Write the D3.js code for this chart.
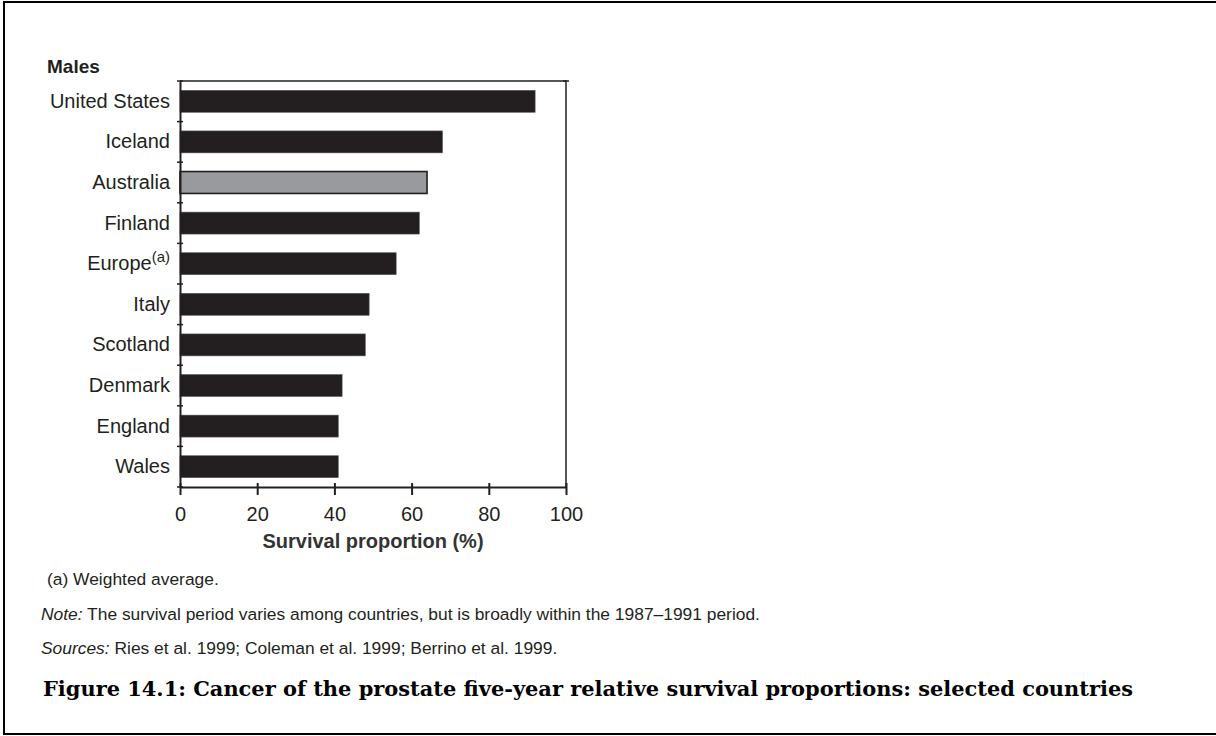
<!DOCTYPE html>
<html>
<head>
<meta charset="utf-8">
<script src="https://cdn.jsdelivr.net/npm/d3@7"></script>
<style>
  body { margin: 0; background: #fff; }
  svg { display: block; font-family: "Liberation Sans", Arial, sans-serif; }
</style>
</head>
<body>
<div id="chart"></div>
<script>
// data
const countries = ["United States", "Iceland", "Australia", "Finland", "Europe",
                   "Italy", "Scotland", "Denmark", "England", "Wales"];
const survival = [92, 68, 64, 62, 56, 49, 48, 42, 41, 41];
const xTicks = [0, 20, 40, 60, 80, 100];
const highlight = "Australia";
const footnoted = "Europe";

const W = 1216, H = 736;
const ink = "#231f20";

const svg = d3.select("#chart").append("svg")
  .attr("width", W)
  .attr("height", H);

// outer frame (open on the right side, like the page crop)
svg.append("path")
  .attr("d", `M${W + 2},2 H4 V734 H${W + 2}`)
  .attr("fill", "none")
  .attr("stroke", "#000")
  .attr("stroke-width", 2);

const x = d3.scaleLinear().domain([0, 100]).range([180, 566]);
const y = d3.scaleBand().domain(countries).range([81, 487]).paddingInner(0.46).paddingOuter(0.23);

const rows = countries.map((c, i) => ({ name: c, value: survival[i] }));

// bars
svg.selectAll(".bar")
  .data(rows)
  .enter().append("rect")
  .attr("class", "bar")
  .attr("x", x(0))
  .attr("y", d => y(d.name))
  .attr("width", d => x(d.value) - x(0))
  .attr("height", y.bandwidth())
  .attr("fill", d => d.name === highlight ? "#999a9d" : ink)
  .attr("stroke", d => d.name === highlight ? ink : "#555")
  .attr("stroke-width", d => d.name === highlight ? 1.6 : 0.6);

// frame top + right
svg.append("path")
  .attr("d", `M${x(0)},${y.range()[0]} H${x(100)} V${y.range()[1]}`)
  .attr("fill", "none")
  .attr("stroke", ink)
  .attr("stroke-width", 1.5);

// left axis: labels only, ticks drawn at band boundaries
const yAxis = svg.append("g")
  .attr("transform", `translate(${x(0)},0)`)
  .call(d3.axisLeft(y).tickSize(0).tickPadding(10));
yAxis.select(".domain").attr("stroke", ink).attr("stroke-width", 2);
yAxis.selectAll("text")
  .attr("font-family", "'Liberation Sans', Arial, sans-serif")
  .attr("font-size", 20)
  .attr("fill", ink);

// superscript on Europe
yAxis.selectAll(".tick text")
  .filter(d => d === footnoted)
  .text(null)
  .call(t => {
    t.append("tspan").text("Europe");
    t.append("tspan").text("(a)").attr("font-size", 15).attr("dy", -8);
  });

const bounds = d3.range(countries.length + 1).map(k => y.range()[0] + k * y.step());
svg.selectAll(".ytick")
  .data(bounds)
  .enter().append("line")
  .attr("x1", x(0) - 3).attr("x2", x(0) + 3)
  .attr("y1", d => d).attr("y2", d => d)
  .attr("stroke", ink).attr("stroke-width", 1.5);
svg.selectAll(".rtick")
  .data([y.range()[0]])
  .enter().append("line")
  .attr("x1", x(100) - 3).attr("x2", x(100) + 3)
  .attr("y1", d => d).attr("y2", d => d)
  .attr("stroke", ink).attr("stroke-width", 1.5);

// bottom axis
const xAxis = svg.append("g")
  .attr("transform", `translate(0,${y.range()[1]})`)
  .call(d3.axisBottom(x).tickValues(xTicks).tickSize(8).tickSizeOuter(0).tickPadding(12));
xAxis.select(".domain").attr("stroke", ink).attr("stroke-width", 2);
xAxis.selectAll(".tick line").attr("y1", -4).attr("stroke", ink).attr("stroke-width", 2);
xAxis.selectAll("text")
  .attr("font-family", "'Liberation Sans', Arial, sans-serif")
  .attr("font-size", 20)
  .attr("fill", ink);

svg.append("text")
  .attr("x", (x(0) + x(100)) / 2)
  .attr("y", 548)
  .attr("text-anchor", "middle")
  .attr("font-size", 20)
  .attr("font-weight", "bold")
  .attr("fill", "#333")
  .text("Survival proportion (%)");

svg.append("text")
  .attr("x", 47)
  .attr("y", 73)
  .attr("font-size", 19)
  .attr("font-weight", "bold")
  .attr("fill", ink)
  .text("Males");

// notes
svg.append("text")
  .attr("x", 47).attr("y", 585)
  .attr("font-size", 17.4).attr("fill", ink)
  .text("(a) Weighted average.");

const note = svg.append("text").attr("x", 41).attr("y", 620).attr("font-size", 17.4).attr("fill", ink);
note.append("tspan").attr("font-style", "italic").text("Note:");
note.append("tspan").text(" The survival period varies among countries, but is broadly within the 1987\u20131991 period.");

const src = svg.append("text").attr("x", 41).attr("y", 654).attr("font-size", 17.4).attr("fill", ink);
src.append("tspan").attr("font-style", "italic").text("Sources:");
src.append("tspan").text(" Ries et al. 1999; Coleman et al. 1999; Berrino et al. 1999.");

svg.append("text")
  .attr("x", 43).attr("y", 696)
  .attr("font-family", "'DejaVu Serif', 'Liberation Serif', serif")
  .attr("font-size", 20)
  .attr("font-weight", "bold")
  .attr("fill", "#000")
  .attr("textLength", 1090)
  .attr("lengthAdjust", "spacingAndGlyphs")
  .text("Figure 14.1: Cancer of the prostate five-year relative survival proportions: selected countries");
</script>
</body>
</html>
